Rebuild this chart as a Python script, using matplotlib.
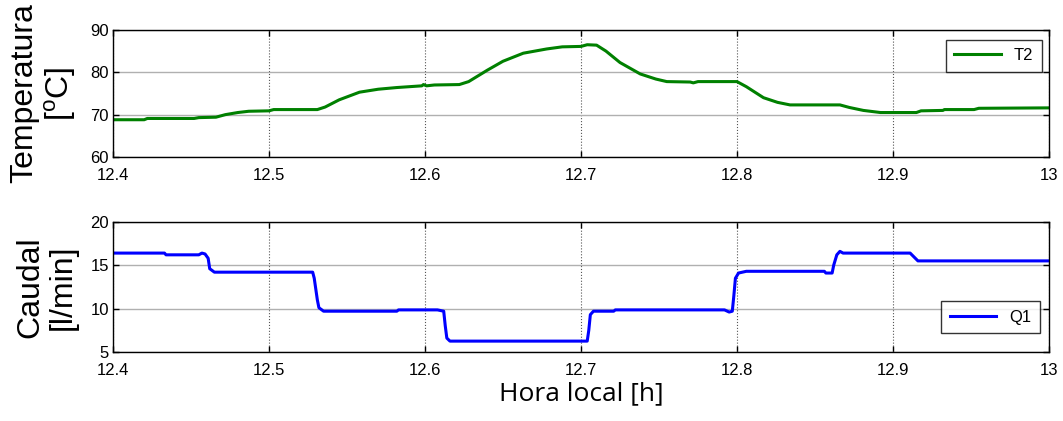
import matplotlib
matplotlib.use('Agg')
import matplotlib.pyplot as plt
import numpy as np

#%% data
t_T2 = [12.400, 12.420, 12.422, 12.452, 12.455, 12.466, 12.472, 12.480, 12.487, 12.500,
        12.503, 12.531, 12.536, 12.545, 12.558, 12.570, 12.582, 12.598, 12.599, 12.601,
        12.606, 12.622, 12.628, 12.640, 12.650, 12.663, 12.678, 12.688, 12.700, 12.704,
        12.710, 12.716, 12.725, 12.738, 12.748, 12.755, 12.770, 12.772, 12.775, 12.800,
        12.806, 12.817, 12.826, 12.834, 12.866, 12.872, 12.881, 12.892, 12.915, 12.918,
        12.932, 12.933, 12.952, 12.955, 13.000]
T2 = [68.8, 68.8, 69.1, 69.1, 69.3, 69.4, 70.0, 70.5, 70.8, 70.9,
      71.2, 71.2, 71.8, 73.5, 75.3, 76.0, 76.4, 76.8, 77.1, 76.8,
      77.0, 77.1, 77.8, 80.5, 82.6, 84.5, 85.5, 86.0, 86.1, 86.5,
      86.4, 85.0, 82.3, 79.6, 78.4, 77.8, 77.7, 77.5, 77.8, 77.8,
      76.6, 74.0, 72.9, 72.3, 72.3, 71.7, 71.0, 70.5, 70.5, 70.9,
      71.0, 71.2, 71.2, 71.5, 71.6]

t_Q1 = [12.400, 12.433, 12.434, 12.455, 12.457, 12.459, 12.461, 12.462, 12.465, 12.528,
        12.529, 12.531, 12.532, 12.535, 12.582, 12.583, 12.608, 12.612, 12.613, 12.614,
        12.616, 12.704, 12.705, 12.706, 12.708, 12.721, 12.722, 12.792, 12.795, 12.797,
        12.798, 12.799, 12.801, 12.806, 12.856, 12.857, 12.861, 12.862, 12.864, 12.866,
        12.868, 12.911, 12.916, 13.000]
Q1 = [16.4, 16.4, 16.2, 16.2, 16.4, 16.3, 15.8, 14.6, 14.2, 14.2,
      13.5, 11.0, 10.1, 9.7, 9.7, 9.85, 9.85, 9.7, 8.0, 6.6,
      6.25, 6.25, 7.5, 9.3, 9.7, 9.7, 9.85, 9.85, 9.6, 9.7,
      11.5, 13.5, 14.1, 14.3, 14.3, 14.1, 14.1, 15.0, 16.2, 16.6,
      16.4, 16.4, 15.5, 15.5]

xticks = [12.4, 12.5, 12.6, 12.7, 12.8, 12.9, 13.0]
xticklabels = ['12.4', '12.5', '12.6', '12.7', '12.8', '12.9', '13']

#%% figure
fig = plt.figure(figsize=(10.63, 4.21), dpi=100)
ax1 = fig.add_axes([0.1063, 0.627, 0.8805, 0.302])
ax2 = fig.add_axes([0.1063, 0.164, 0.8805, 0.309])

tickfont = {'family': 'Liberation Sans', 'size': 12}
yfont = 'Liberation Sans'
xfont = 'Open Sans'

def style(ax, ylim, yticks):
    ax.set_xlim(12.4, 13.0)
    ax.set_ylim(*ylim)
    ax.set_xticks(xticks)
    ax.set_xticklabels(xticklabels, **tickfont)
    ax.set_yticks(yticks)
    ax.set_yticklabels([str(v) for v in yticks], **tickfont)
    ax.tick_params(direction='in', top=True, right=True, length=4, width=1)
    ax.tick_params(axis='x', pad=8)
    ax.tick_params(axis='y', pad=3)
    ax.xaxis.grid(True, linestyle=':', color='#555555', linewidth=0.8)
    ax.yaxis.grid(True, linestyle='-', color='#b0b0b0', linewidth=1.0)
    ax.set_axisbelow(True)
    for s in ax.spines.values():
        s.set_linewidth(1.0)

ax1.plot(t_T2, T2, color='#008000', lw=2.2, label='T2')
style(ax1, (60, 90), [60, 70, 80, 90])
ax1.set_ylabel('Temperatura\n[$^\\mathregular{o}$C]', fontsize=23, family=yfont,
               linespacing=1.1, labelpad=9)
leg1 = ax1.legend(loc='upper right', bbox_to_anchor=(0.9925, 0.921), borderaxespad=0,
                  prop={'family': 'Liberation Sans', 'size': 12},
                  fancybox=False, edgecolor='black', handlelength=2.8, borderpad=0.5)
leg1.get_frame().set_linewidth(1.0)

ax2.plot(t_Q1, Q1, color='#0000ff', lw=2.2, label='Q1')
style(ax2, (5, 20), [5, 10, 15, 20])
ax2.set_ylabel('Caudal\n[l/min]', fontsize=23, family=yfont, linespacing=1.1, labelpad=9)
ax2.set_xlabel('Hora local [h]', fontsize=19, family=xfont, labelpad=2)
leg2 = ax2.legend(loc='lower right', bbox_to_anchor=(0.9904, 0.146), borderaxespad=0,
                  prop={'family': 'Liberation Sans', 'size': 12},
                  fancybox=False, edgecolor='black', handlelength=2.8, borderpad=0.5)
leg2.get_frame().set_linewidth(1.0)

fig.savefig('out.png', dpi=100)
